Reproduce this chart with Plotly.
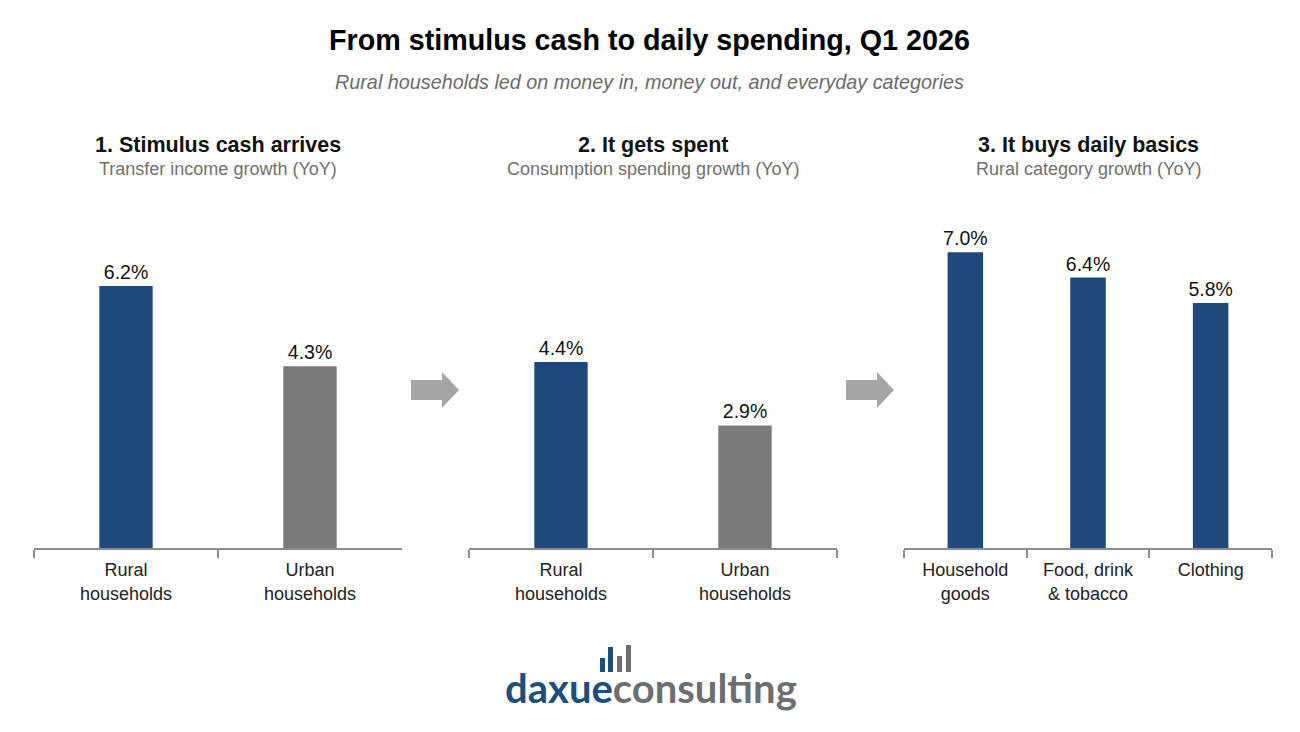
import plotly.graph_objects as go

# Page has an 8px body margin; work in reference-pixel coordinates.
OFF = 8
W, H = 1300 - 2 * OFF, 732 - 2 * OFF

# ---- data ----
p1_categories = ["Rural<br>households", "Urban<br>households"]
p1_values = [6.2, 4.3]
p2_categories = ["Rural<br>households", "Urban<br>households"]
p2_values = [4.4, 2.9]
p3_categories = ["Household<br>goods", "Food, drink<br>& tobacco", "Clothing"]
p3_values = [7.0, 6.4, 5.8]

p1_colors = ["#1f497d", "#7a7a7a"]
p2_colors = ["#1f497d", "#7a7a7a"]
p3_colors = ["#1f497d", "#1f497d", "#1f497d"]

panel_titles = ["1. Stimulus cash arrives", "2. It gets spent", "3. It buys daily basics"]
panel_subtitles = ["Transfer income growth (YoY)", "Consumption spending growth (YoY)",
                   "Rural category growth (YoY)"]

FONT = "Liberation Sans, Arial, sans-serif"

def px(x):
    return (x - OFF) / W

def py(y):
    return 1 - (y - OFF) / H

fig = go.Figure()

panels = [
    (p1_categories, p1_values, p1_colors, "x", "y"),
    (p2_categories, p2_values, p2_colors, "x2", "y2"),
    (p3_categories, p3_values, p3_colors, "x3", "y3"),
]
for cats, vals, cols, xa, ya in panels:
    fig.add_trace(go.Bar(
        x=cats, y=vals, marker=dict(color=cols, line=dict(width=0)),
        width=0.29,
        text=[f"{v:.1f}%" for v in vals], textposition="outside",
        constraintext="none",
        textfont=dict(size=19.5, color="#111111", family=FONT),
        cliponaxis=False, xaxis=xa, yaxis=ya, showlegend=False,
        hoverinfo="skip",
    ))

x_domains = [(34, 402), (469, 837), (904, 1272)]
y_dom = [py(548), py(200)]
ymax = 348 / 42.26

for i, (a, b) in enumerate(x_domains):
    sfx = "" if i == 0 else str(i + 1)
    fig.update_layout(**{
        f"xaxis{sfx}": dict(
            domain=[px(a), px(b)], anchor=f"y{sfx}",
            showline=True, linecolor="#8c8c8c", linewidth=1.5,
            ticks="outside", tickson="boundaries", ticklen=8, tickwidth=1.5,
            tickcolor="#8c8c8c", showgrid=False, zeroline=False,
            tickfont=dict(size=18, color="#222222", family=FONT),
            ticklabelstandoff=5,
            fixedrange=True,
        ),
        f"yaxis{sfx}": dict(
            domain=y_dom, anchor=f"x{sfx}", range=[0, ymax],
            visible=False, showgrid=False, zeroline=False, fixedrange=True,
        ),
    })

annotations = [
    dict(x=px(649), y=py(40), text="<b>From stimulus cash to daily spending, Q1 2026</b>",
         font=dict(size=28.7, color="#000000", family=FONT)),
    dict(x=px(649), y=py(82), text="<i>Rural households led on money in, money out, and everyday categories</i>",
         font=dict(size=19.8, color="#6b6b6b", family=FONT)),
]
for (a, b), t, s in zip(x_domains, panel_titles, panel_subtitles):
    c = px((a + b) / 2)
    annotations.append(dict(x=c, y=py(145), text=f"<b>{t}</b>",
                            font=dict(size=21.5, color="#111111", family=FONT)))
    annotations.append(dict(x=c, y=py(169), text=s,
                            font=dict(size=18, color="#707070", family=FONT)))

# logo text
annotations.append(dict(
    x=px(651), y=py(688),
    text="<b><span style='color:#1d4f7c'>daxue</span><span style='color:#6d6e71'>consulting</span></b>",
    font=dict(size=40, family="Lato, Liberation Sans, sans-serif"),
))

for an in annotations:
    an.update(xref="paper", yref="paper", showarrow=False,
              xanchor="center", yanchor="middle")
fig.update_layout(annotations=annotations)

shapes = []
# arrows between panels
def arrow(x0):
    pts = [(x0, 380), (x0 + 31, 380), (x0 + 31, 372), (x0 + 48, 390),
           (x0 + 31, 408), (x0 + 31, 400), (x0, 400)]
    path = "M " + " L ".join(f"{px(x)},{py(y)}" for x, y in pts) + " Z"
    return dict(type="path", path=path, xref="paper", yref="paper",
                fillcolor="#a6a6a6", line=dict(width=0))
shapes.append(arrow(411))
shapes.append(arrow(846))

# logo icon bars
for x0, top, col in [(600, 658, "#1d4f7c"), (608, 647, "#1d4f7c"),
                     (617, 656, "#6d6e71"), (626, 645, "#6d6e71")]:
    shapes.append(dict(type="rect", xref="paper", yref="paper",
                       x0=px(x0), x1=px(x0 + 5), y0=py(672), y1=py(top),
                       fillcolor=col, line=dict(width=0)))

fig.update_layout(
    shapes=shapes,
    width=W, height=H,
    margin=dict(l=0, r=0, t=0, b=0),
    paper_bgcolor="white", plot_bgcolor="white",
    bargap=0.71,
    font=dict(family=FONT),
)

fig.write_html("out.html", config={"displayModeBar": False})
